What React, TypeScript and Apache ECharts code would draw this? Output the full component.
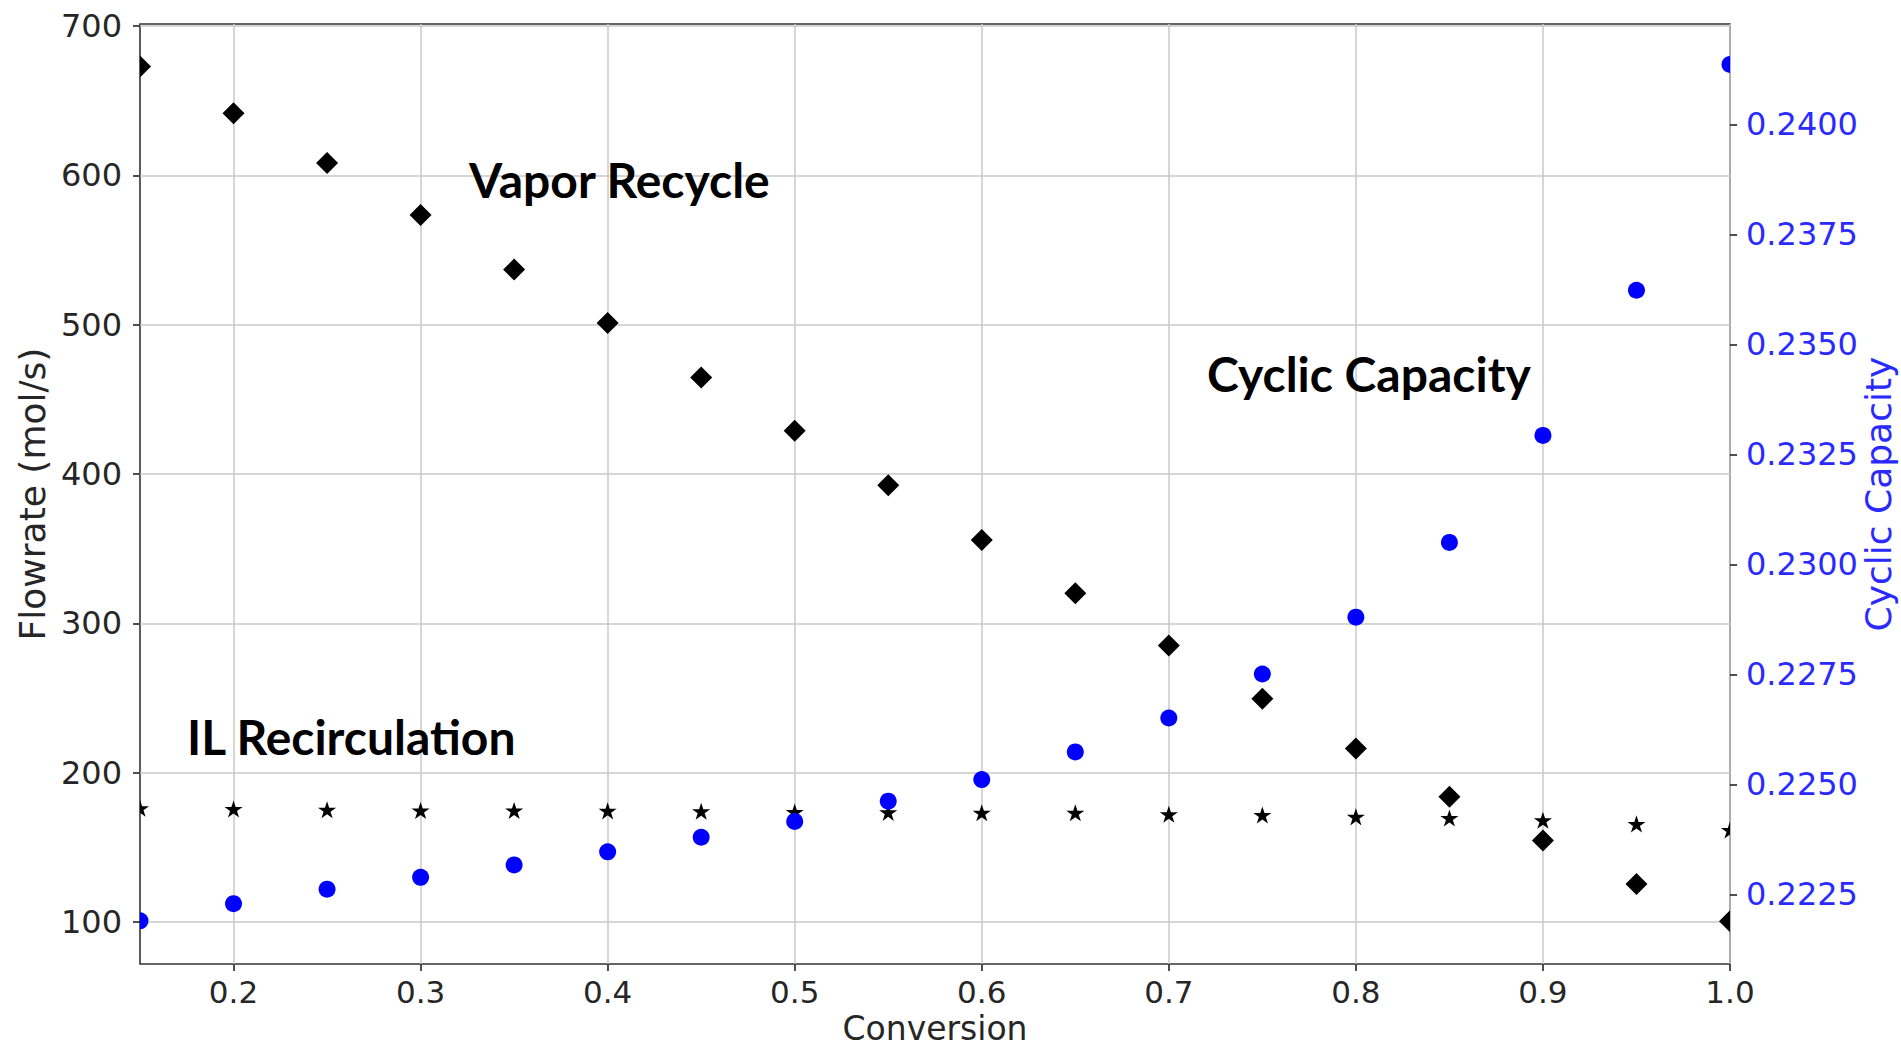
import React, { useEffect, useRef } from "react";
import * as echarts from "echarts";

const conversion = [0.15, 0.2, 0.25, 0.3, 0.35, 0.4, 0.45, 0.5, 0.55, 0.6, 0.65, 0.7, 0.75, 0.8, 0.85, 0.9, 0.95, 1.0];
const vaporRecycle = [673, 641.6, 608.3, 573.4, 536.9, 501.1, 464.6, 428.9, 392.4, 355.8, 320.1, 285.2, 249.5, 216.2, 183.8, 154.5, 125.3, 100.4];
const ilRecirculation = [176.5, 176, 175.5, 175, 175, 174.8, 174.5, 174, 173.8, 173.5, 173.5, 172.5, 172, 170.8, 170, 168.5, 166, 162];
const cyclicCapacity = [0.2219, 0.22229, 0.22262, 0.22289, 0.22317, 0.22347, 0.2238, 0.22416, 0.22462, 0.22511, 0.22574, 0.22651, 0.22751, 0.2288, 0.2305, 0.23293, 0.23623, 0.24136];

const xTicks = [0.2, 0.3, 0.4, 0.5, 0.6, 0.7, 0.8, 0.9, 1.0];
const flowTicks = [100, 200, 300, 400, 500, 600, 700];
const capTicks = [0.2225, 0.225, 0.2275, 0.23, 0.2325, 0.235, 0.2375, 0.24];

const annotations = [
  { text: "Vapor Recycle", x: 469, y: 179 },
  { text: "Cyclic Capacity", x: 1207, y: 373 },
  { text: "IL Recirculation", x: 187, y: 736 },
];

const TICK_FONT = "DejaVu Sans";
const BLUE = "#0000ff";

function diamondItem(params: any, api: any) {
  const p = api.coord([api.value(0), api.value(1)]);
  const r = 11;
  return {
    type: "polygon",
    shape: { points: [[p[0], p[1] - r], [p[0] + r, p[1]], [p[0], p[1] + r], [p[0] - r, p[1]]] },
    style: { fill: "#000" },
  };
}

function starItem(params: any, api: any) {
  const p = api.coord([api.value(0), api.value(1)]);
  const R = 9.5;
  const r = R * 0.382;
  const pts: number[][] = [];
  for (let k = 0; k < 10; k++) {
    const ang = -Math.PI / 2 + (k * Math.PI) / 5;
    const rad = k % 2 === 0 ? R : r;
    pts.push([p[0] + rad * Math.cos(ang), p[1] + 1.5 + rad * Math.sin(ang)]);
  }
  return { type: "polygon", shape: { points: pts }, style: { fill: "#000" } };
}

function circleItem(params: any, api: any) {
  const p = api.coord([api.value(0), api.value(1)]);
  return { type: "circle", shape: { cx: p[0], cy: p[1], r: 8.5 }, style: { fill: BLUE } };
}

export default function App() {
  const ref = useRef<HTMLDivElement>(null);
  useEffect(() => {
    if (!ref.current) return;
    const chart = echarts.init(ref.current, null, { renderer: "svg" });
    const tickLine = { color: "#222", width: 1.6 };
    const option: any = {
      animation: false,
      backgroundColor: "#fff",
      grid: {
        left: 140,
        top: 24,
        width: 1590,
        height: 940,
        outerBoundsMode: "none",
        containLabel: false,
        show: true,
        borderColor: "#333",
        borderWidth: 1.6,
        backgroundColor: "transparent",
      },
      xAxis: {
        type: "value",
        min: 0.15,
        max: 1.0,
        axisLine: { show: false },
        axisTick: { show: true, length: 7, lineStyle: tickLine, customValues: xTicks },
        axisLabel: {
          customValues: xTicks,
          formatter: (v: number) => v.toFixed(1),
          fontSize: 31,
          fontFamily: TICK_FONT,
          color: "#262626",
          margin: 12,
        },
        splitLine: { show: true, lineStyle: { color: "#c8c8c8", width: 1.5 } },
        name: "Conversion",
        nameLocation: "middle",
        nameGap: 48,
        nameTextStyle: { fontSize: 33, lineHeight: 33, fontFamily: TICK_FONT, color: "#262626" },
      },
      yAxis: [
        {
          type: "value",
          min: 71.8,
          max: 701.4,
          position: "left",
          axisLine: { show: false },
          axisTick: { show: true, length: 7, lineStyle: tickLine, customValues: flowTicks },
          axisLabel: {
            customValues: flowTicks,
            formatter: (v: number) => String(Math.round(v)),
            fontSize: 32,
            fontFamily: TICK_FONT,
            color: "#262626",
            margin: 18,
          },
          splitLine: { show: true, lineStyle: { color: "#c8c8c8", width: 1.5 } },
          name: "Flowrate (mol/s)",
          nameLocation: "middle",
          nameRotate: 90,
          nameGap: 90,
          nameTextStyle: { fontSize: 36, fontFamily: TICK_FONT, color: "#262626" },
        },
        {
          type: "value",
          min: 0.22092,
          max: 0.24228,
          position: "right",
          axisLine: { show: false },
          axisTick: { show: true, length: 7, lineStyle: tickLine, customValues: capTicks },
          axisLabel: {
            customValues: capTicks,
            formatter: (v: number) => v.toFixed(4),
            fontSize: 32,
            fontFamily: TICK_FONT,
            color: "#2a2aff",
            margin: 16,
          },
          splitLine: { show: false },
          name: "Cyclic Capacity",
          nameLocation: "middle",
          nameRotate: 90,
          nameGap: 130,
          nameMoveOverlap: false,
          nameTextStyle: { fontSize: 36, lineHeight: 36, fontFamily: TICK_FONT, color: "#2a2aff" },
        },
      ],
      series: [
        {
          name: "IL Recirculation",
          type: "custom",
          clip: true,
          yAxisIndex: 0,
          encode: { x: 0, y: 1 },
          data: conversion.map((c, i) => [c, ilRecirculation[i]]),
          renderItem: starItem,
          z: 2,
        },
        {
          name: "Vapor Recycle",
          type: "custom",
          clip: true,
          yAxisIndex: 0,
          encode: { x: 0, y: 1 },
          data: conversion.map((c, i) => [c, vaporRecycle[i]]),
          renderItem: diamondItem,
          z: 3,
        },
        {
          name: "Cyclic Capacity",
          type: "custom",
          clip: true,
          yAxisIndex: 1,
          encode: { x: 0, y: 1 },
          data: conversion.map((c, i) => [c, cyclicCapacity[i]]),
          renderItem: circleItem,
          z: 4,
        },
      ],
      graphic: annotations.map((a) => ({
        type: "text",
        x: a.x,
        y: a.y,
        z: 10,
        style: {
          text: a.text,
          fontFamily: "Lato",
          fontWeight: "bold",
          fontSize: 48,
          fill: "#000",
          textAlign: "left",
          textVerticalAlign: "middle",
          verticalAlign: "middle",
        },
      })),
    };
    chart.setOption(option);
    return () => chart.dispose();
  }, []);
  return (
    <div
      ref={ref}
      style={{ position: "absolute", left: 0, top: 0, width: 1901, height: 1047, background: "#fff" }}
    />
  );
}
